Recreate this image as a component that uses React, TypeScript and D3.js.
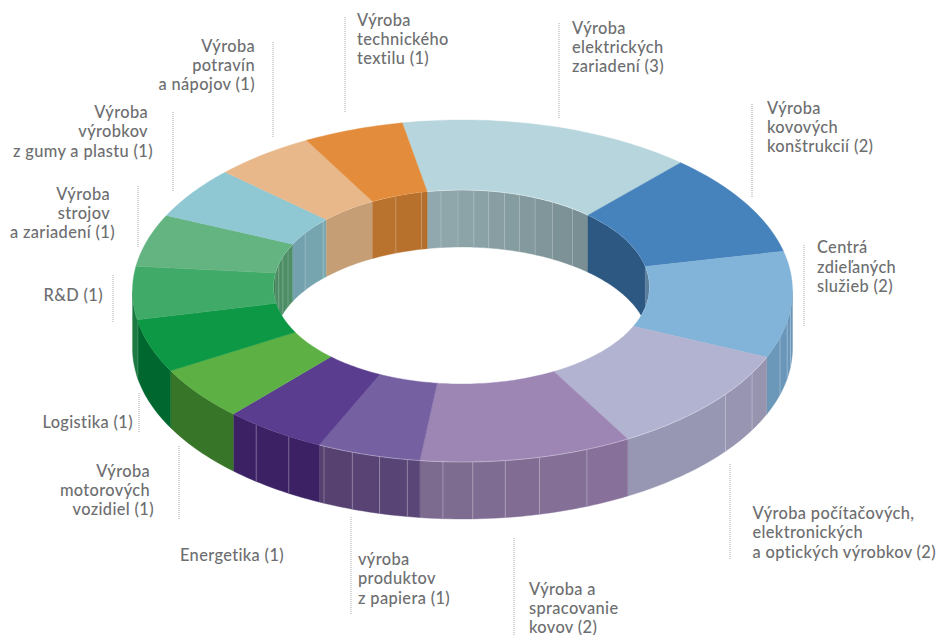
import React from "react";
import * as d3 from "d3";

// ---- data (clockwise, starting at the light-blue slice on the back of the ring)
const sectors = [
  "Výroba elektrických zariadení", "Výroba kovových konštrukcií", "Centrá zdieľaných služieb",
  "Výroba počítačových, elektronických a optických výrobkov", "Výroba a spracovanie kovov",
  "výroba produktov z papiera", "Energetika", "Výroba motorových vozidiel", "Logistika", "R&D",
  "Výroba strojov a zariadení", "Výroba výrobkov z gumy a plastu", "Výroba potravín a nápojov",
  "Výroba technického textilu",
];
const counts = [3, 2, 2, 2, 2, 1, 1, 1, 1, 1, 1, 1, 1, 1];
const topColors = ["#b6d5dc", "#4682bc", "#82b4d9", "#b2b3d1", "#9d85b4", "#7561a2", "#5a3d8f", "#5db044", "#0d9845", "#40aa68", "#64b481", "#8fc7d3", "#e8b88a", "#e38d3c"];
const outerWallFrom = ["#788d91", "#2c5882", "#6795b8", "#9694af", "#88719b", "#5b4679", "#3c2264", "#377528", "#00682f", "#1d7a42", "#3a7d55", "#6f9ca8", "#c59e76", "#bb7430"];
const outerWallTo = ["#788d91", "#2c5882", "#6b97b9", "#9898b5", "#7b6a8e", "#55406f", "#3c2264", "#377528", "#00682f", "#1d7a42", "#3a7d55", "#6f9ca8", "#c59e76", "#bb7430"];
const innerWallFrom = ["#92aaaf", "#2c5882", "#5a7f9e", "#9694af", "#88719b", "#5b4679", "#3c2264", "#377528", "#00682f", "#3f7f58", "#4a8b62", "#72a0ae", "#c59e76", "#bb7430"];
const innerWallTo = ["#788d91", "#2c5882", "#5a7f9e", "#9694af", "#88719b", "#5b4679", "#3c2264", "#377528", "#00682f", "#3f7f58", "#4f8f68", "#78a8b0", "#c59e76", "#b56f2c"];
const seams = [
  [0.08, 0.178, 0.27, 0.356, 0.45, 0.54, 0.636, 0.747, 0.885],
  [],
  [0.55, 0.66, 0.81],
  [0.16, 0.39],
  [0.21, 0.44, 0.6, 0.75, 0.89],
  [0.12, 0.39, 0.66, 0.95],
  [0.33, 0.71],
  [],
  [0.97],
  [0.5],
  [0.3, 0.55, 0.8],
  [0.42, 0.92],
  [],
  [0.44, 0.9],
];
const litOuterEdges = [3, 4, 5];
const litInnerEdges = [0];

const labelLines = [
  ["Výroba", "elektrických", "zariadení (3)"],
  ["Výroba", "kovových", "konštrukcií (2)"],
  ["Centrá", "zdieľaných", "služieb (2)"],
  ["Výroba počítačových,", "elektronických", "a optických výrobkov (2)"],
  ["Výroba a", "spracovanie", "kovov (2)"],
  ["výroba", "produktov", "z papiera (1)"],
  ["Energetika (1)"],
  ["Výroba", "motorových", "vozidiel (1)"],
  ["Logistika (1)"],
  ["R&D (1)"],
  ["Výroba", "strojov", "a zariadení (1)"],
  ["Výroba", "výrobkov", "z gumy a plastu (1)"],
  ["Výroba", "potravín", "a nápojov (1)"],
  ["Výroba", "technického", "textilu (1)"],
];
const labelAnchor = ["start", "start", "start", "start", "start", "start", "start", "end", "end", "end", "end", "end", "end", "start"];
const labelX = [[572, 572, 572], [767, 767, 767], [817, 817, 817], [752.5, 752.5, 752.5], [529, 529, 529], [358, 358, 358], [180], [150, 150, 154], [133], [103], [110, 110, 115], [148, 148, 153], [255, 255, 255], [357, 357, 357]];
const labelY = [[34, 53, 72], [114, 133, 152], [253, 273, 292], [519, 538, 558], [595, 614, 633], [565, 584, 604], [561], [477, 496, 515], [428], [301], [200, 219, 238], [118, 137, 157], [52, 71, 90], [26, 45, 64]];
const leaderX = [559, 752, 804, 730, 514, 351, null, 179, 139, 113, 138, 173, 273, 345];
const leaderY = [[23, 119], [104, 198], [245, 326], [464, 559], [538, 635], [517, 615], null, [446, 520], [393, 433], [275, 323], [186, 248], [112, 192], [42, 137], [17, 113]];

// ---- ring geometry
const rad = Math.PI / 180;
// the drawing's perspective squeezes the right side of the ring a little: warp is that shift
const outer = { cx: 462.5, cy: 291, rx: 330, ry: 171, warp: 2.8 * rad };
const inner = { cx: 461.5, cy: 287, rx: 188, ry: 97, warp: 1.5 * rad };
const depth = 57;
const startDeg = -10.7;
const warpLeft = 1 * rad;
const warped = (e: E, a: number) => {
  const s = Math.sin(a);
  return a - (s > 0 ? e.warp : warpLeft) * s;
};

type E = typeof outer;
const scales = (e: E) => ({
  x: d3.scaleLinear().domain([-1, 1]).range([e.cx - e.rx, e.cx + e.rx]),
  y: d3.scaleLinear().domain([-1, 1]).range([e.cy - e.ry, e.cy + e.ry]),
});
const pt = (e: E, a: number, dy = 0): [number, number] => {
  const s = scales(e);
  const w = warped(e, a);
  return [s.x(Math.sin(w)), s.y(-Math.cos(w)) + dy];
};
const line = d3.line<[number, number]>();
const samples = (a0: number, a1: number) => {
  const n = Math.max(2, Math.ceil(Math.abs(a1 - a0) / 0.02));
  return d3.range(n + 1).map((i) => a0 + ((a1 - a0) * i) / n);
};
const ringPath = (a0: number, a1: number) =>
  line([...samples(a0, a1).map((a) => pt(outer, a)), ...samples(a1, a0).map((a) => pt(inner, a))]) + "Z";
const wallPath = (e: E, a0: number, a1: number) =>
  line([...samples(a0, a1).map((a) => pt(e, a)), ...samples(a1, a0).map((a) => pt(e, a, depth))]) + "Z";

const arcs = d3
  .pie<number>()
  .sort(null)
  .startAngle(startDeg * rad)
  .endAngle(startDeg * rad + 2 * Math.PI)(counts);

const PI = Math.PI;
type Facet = { d: string; fill: string };
type Seam = { p: [number, number]; q: [number, number] };

function wall(e: E, i: number, lo: number, hi: number, shift: number, from: string, to: string) {
  const s = arcs[i].startAngle + shift;
  const t = arcs[i].endAngle + shift;
  const a0 = Math.max(s, lo);
  const a1 = Math.min(t, hi);
  const facets: Facet[] = [];
  const lines: Seam[] = [];
  if (a1 <= a0) return { facets, lines };
  const stops = [s, ...seams[i].map((f) => s + f * (t - s)), t];
  const color = d3.interpolateRgb(from, to);
  stops.slice(1).forEach((b, k) => {
    const u = Math.max(stops[k], a0);
    const v = Math.min(b, a1);
    if (v <= u) return;
    facets.push({ d: wallPath(e, u, v), fill: color(((u + v) / 2 - s) / (t - s)) });
    if (k > 0 && stops[k] >= a0) lines.push({ p: pt(e, stops[k]), q: pt(e, stops[k], depth) });
  });
  return { facets, lines };
}

const font = "Lato, 'Open Sans', sans-serif";

export default function App() {
  const outerWalls = arcs.map((_, i) => wall(outer, i, 92.8 * rad, 269 * rad, 0, outerWallFrom[i], outerWallTo[i]));
  const innerWalls = arcs.map((a, i) =>
    wall(inner, i, -91 * rad, 92 * rad, a.endAngle > (3 * PI) / 2 ? -2 * PI : 0, innerWallFrom[i], innerWallTo[i])
  );
  return (
    <svg width={939} height={635} style={{ position: "fixed", left: 0, top: 0, background: "#fff" }}>
      <defs>
        <clipPath id="hole">
          <ellipse cx={inner.cx} cy={inner.cy} rx={inner.rx} ry={inner.ry} />
        </clipPath>
      </defs>
      {/* leaders */}
      {leaderX.map((x, i) =>
        x === null ? null : (
          <line key={sectors[i]} x1={x} x2={x} y1={leaderY[i]![0]} y2={leaderY[i]![1]} stroke="#b5b6b8" strokeWidth={1.2} strokeDasharray="1 1" />
        )
      )}
      {/* outer wall */}
      {outerWalls.map((w, i) => (
        <g key={i}>
          {w.facets.map((f, k) => (
            <path key={k} d={f.d} fill={f.fill} stroke={f.fill} strokeWidth={0.4} />
          ))}
          {w.lines.map((l, k) => (
            <line key={k} x1={l.p[0]} y1={l.p[1]} x2={l.q[0]} y2={l.q[1]} stroke="#fff" strokeOpacity={0.28} strokeWidth={1} />
          ))}
        </g>
      ))}
      {/* inner wall */}
      <g clipPath="url(#hole)">
        {innerWalls.map((w, i) => (
          <g key={i}>
            {w.facets.map((f, k) => (
              <path key={k} d={f.d} fill={f.fill} stroke={f.fill} strokeWidth={0.4} />
            ))}
            {w.lines.map((l, k) => (
              <line key={k} x1={l.p[0]} y1={l.p[1]} x2={l.q[0]} y2={l.q[1]} stroke="#fff" strokeOpacity={0.2} strokeWidth={1} />
            ))}
          </g>
        ))}
      </g>
      {/* top surface */}
      {arcs.map((a, i) => (
        <path key={sectors[i]} d={ringPath(a.startAngle, a.endAngle)} fill={topColors[i]} stroke={topColors[i]} strokeWidth={0.4} />
      ))}
      {/* pale highlights along some top edges */}
      {litOuterEdges.map((i) => (
        <path key={"o" + i} d={line(samples(arcs[i].startAngle, arcs[i].endAngle).map((a) => pt(outer, a))) as string} fill="none" stroke="#fff" strokeOpacity={0.4} strokeWidth={0.8} />
      ))}
      {litInnerEdges.map((i) => (
        <path key={"i" + i} d={line(samples(arcs[i].startAngle, arcs[i].endAngle).map((a) => pt(inner, a))) as string} fill="none" stroke="#fff" strokeOpacity={0.4} strokeWidth={0.8} />
      ))}
      {/* labels */}
      <g fontFamily={font} fontSize={16.4} fontWeight={500} fill="#6d6e70" letterSpacing={0.36}>
        {labelLines.map((ls, i) =>
          ls.map((t, k) => (
            <text key={i + "-" + k} x={labelX[i][k]} y={labelY[i][k]} textAnchor={labelAnchor[i]}>
              {t}
            </text>
          ))
        )}
      </g>
    </svg>
  );
}
